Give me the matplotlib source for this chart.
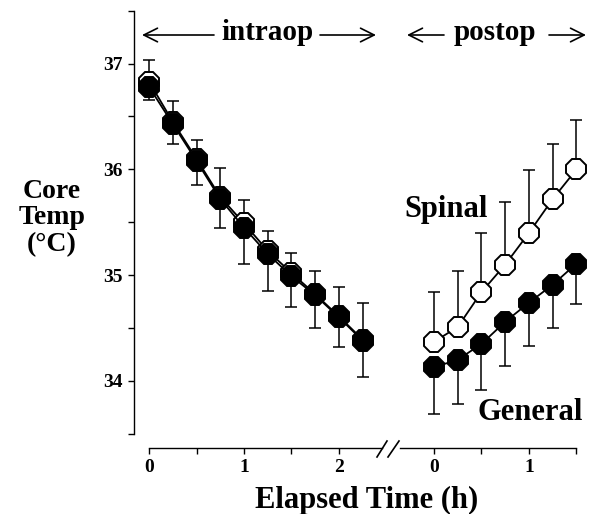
import matplotlib
matplotlib.use("Agg")
import matplotlib.pyplot as plt
from matplotlib.lines import Line2D

# ---- data ----
intraop_t = [0, 0.25, 0.5, 0.75, 1.0, 1.25, 1.5, 1.75, 2.0, 2.25]
spinal_intra = [36.83, 36.45, 36.10, 35.74, 35.49, 35.23, 35.02, 34.82, 34.61, 34.39]
spinal_intra_sd = [0.20, 0.20, 0.18, 0.27, 0.22, 0.19, 0.19, 0.22, 0.28, 0.35]
general_intra = [36.78, 36.43, 36.08, 35.72, 35.45, 35.20, 34.99, 34.81, 34.60, 34.38]
general_intra_sd = [0.12, 0.19, 0.23, 0.27, 0.34, 0.35, 0.29, 0.31, 0.28, 0.34]

postop_t = [0, 0.25, 0.5, 0.75, 1.0, 1.25, 1.5]
spinal_post = [34.37, 34.51, 34.84, 35.10, 35.40, 35.72, 36.00]
spinal_post_sd = [0.47, 0.53, 0.56, 0.59, 0.59, 0.52, 0.47]
general_post = [34.13, 34.20, 34.35, 34.56, 34.74, 34.91, 35.11]
general_post_sd = [0.44, 0.42, 0.44, 0.42, 0.41, 0.41, 0.38]

y_major = [34, 35, 36, 37]
y_minor = [33.5, 34.5, 35.5, 36.5, 37.5]
x_intra_ticks = [0, 0.5, 1, 1.5, 2]
x_intra_labels = ["0", "", "1", "", "2"]
x_post_ticks = [0, 0.5, 1, 1.5]
x_post_labels = ["0", "", "1", ""]

plt.rcParams['font.family'] = ['Liberation Serif', 'DejaVu Serif']
plt.rcParams['font.weight'] = 'bold'

W, H = 590, 514
fig = plt.figure(figsize=(W / 100, H / 100), dpi=100)


def fx(px):
    return px / W


def fy(py):
    return 1 - py / H


ytop_px, ybot_px = 10.7, 448
ax1 = fig.add_axes([fx(134), fy(ybot_px), (384 - 134) / W, (ybot_px - ytop_px) / H])
ax2 = fig.add_axes([fx(396), fy(ybot_px), (582 - 396) / W, (ybot_px - ytop_px) / H])

ylim = (33.366, 37.5)
ax1.set_xlim(-0.158, 2.474)
ax2.set_xlim(-0.40, 1.558)
for ax in (ax1, ax2):
    ax.set_ylim(*ylim)
    ax.patch.set_alpha(0)
    for s in ('top', 'right'):
        ax.spines[s].set_visible(False)
    ax.spines['bottom'].set_linewidth(1.0)
    ax.spines['left'].set_linewidth(1.0)
    ax.tick_params(axis='both', which='both', direction='out', length=4, width=1.0,
                   labelsize=14, pad=4)

ax1.spines['left'].set_bounds(33.5, 37.5)
ax1.spines['bottom'].set_bounds(0, 2.45)
ax1.set_yticks(y_major)
ax1.set_yticks(y_minor, minor=True)
ax1.set_yticklabels([str(v) for v in y_major], fontweight='bold')
ax1.set_xticks(x_intra_ticks)
ax1.set_xticklabels(x_intra_labels, fontweight='bold')

ax2.spines['left'].set_visible(False)
ax2.spines['bottom'].set_bounds(-0.36, 1.5)
ax2.set_yticks([])
ax2.set_xticks(x_post_ticks)
ax2.set_xticklabels(x_post_labels, fontweight='bold')

ms = 16
ebkw = dict(fmt='none', ecolor='black', elinewidth=1.1, capsize=4, capthick=1.1)


def draw(ax, t, spi, spi_sd, gen, gen_sd):
    zero = [0] * len(t)
    ax.errorbar(t, spi, yerr=[zero, spi_sd], zorder=1, clip_on=False, **ebkw)
    ax.errorbar(t, gen, yerr=[gen_sd, zero], zorder=1, clip_on=False, **ebkw)
    ax.plot(t, spi, color='black', lw=1.3, marker='8', ms=ms, mfc='white',
            mec='black', mew=1.4, zorder=3, clip_on=False)
    ax.plot(t, gen, color='black', lw=1.3, marker='8', ms=ms, mfc='black',
            mec='black', mew=1.4, zorder=4, clip_on=False)


draw(ax1, intraop_t, spinal_intra, spinal_intra_sd, general_intra, general_intra_sd)
draw(ax2, postop_t, spinal_post, spinal_post_sd, general_post, general_post_sd)

# labels
fig.text(fx(52), fy(218), "Core\nTemp\n(°C)", ha='center', va='center',
         fontsize=20, fontweight='bold', linespacing=1.1)
fig.text(fx(367), fy(500), "Elapsed Time (h)", ha='center', va='center',
         fontsize=22, fontweight='bold')
fig.text(fx(446), fy(210), "Spinal", ha='center', va='center', fontsize=22,
         fontweight='bold')
fig.text(fx(530), fy(412), "General", ha='center', va='center', fontsize=22,
         fontweight='bold')
fig.text(fx(267), fy(33), "intraop", ha='center', va='center', fontsize=21,
         fontweight='bold')
fig.text(fx(495), fy(33), "postop", ha='center', va='center', fontsize=21,
         fontweight='bold')

arrow_kw = dict(arrowstyle='->,head_length=0.7,head_width=0.35', color='black', lw=1.2,
                shrinkA=0, shrinkB=0)
for x0, x1 in [(214, 142), (320, 376), (444, 407), (549, 586)]:
    fig.add_artist(matplotlib.patches.FancyArrowPatch(
        (fx(x0), fy(35)), (fx(x1), fy(35)), transform=fig.transFigure,
        mutation_scale=14, **arrow_kw))

# axis break marks
for (xa, ya, xb, yb) in [(377, 457, 387, 441), (388, 457, 399, 441)]:
    fig.add_artist(Line2D([fx(xa), fx(xb)], [fy(ya), fy(yb)], color='black',
                          lw=1.2, transform=fig.transFigure))

fig.savefig("out.png", dpi=100)
